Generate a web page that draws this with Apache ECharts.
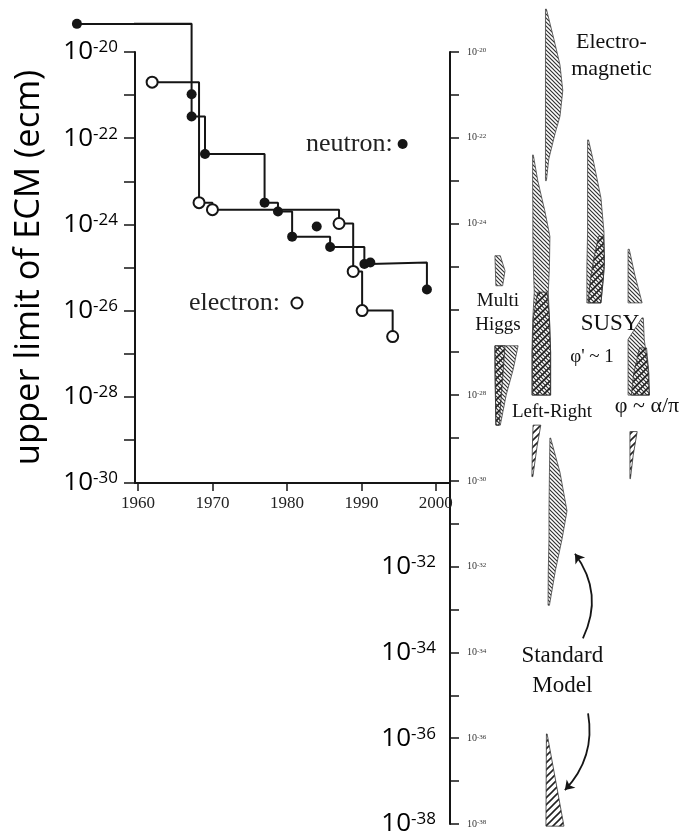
<!DOCTYPE html>
<html>
<head>
<meta charset="utf-8">
<script src="https://cdn.jsdelivr.net/npm/echarts@6/dist/echarts.min.js"></script>
<style>
html, body { margin: 0; padding: 0; background: #fff; }
#chart { width: 684px; height: 837px; }
</style>
</head>
<body>
<div id="chart"></div>
<script>
// measured upper limits of the electric dipole moment (e cm)
const neutronYears = [1951.8, 1967.2, 1967.2, 1969.0, 1977.0, 1978.8, 1980.7, 1985.8, 1990.4, 1991.2, 1998.8]
const neutronEdm   = [4.5e-20, 1.05e-21, 3.2e-22, 4.3e-23, 3.2e-24, 2.0e-24, 5.2e-25, 3.0e-25, 1.2e-25, 1.3e-25, 3.1e-26]
const neutronExtraYear = [1984.0]
const neutronExtraEdm  = [8.9e-25]

const electronYears = [1961.9, 1968.2, 1970.0, 1987.0, 1988.9, 1990.1, 1994.2]
const electronEdm   = [2.0e-21, 3.2e-24, 2.2e-24, 1.05e-24, 8.1e-26, 1.0e-26, 2.5e-27]

// tick labels
const yearTicks     = [1960, 1970, 1980, 1990, 2000]
const leftTickExp   = [-30, -29, -28, -27, -26, -25, -24, -23, -22, -21, -20]
const leftLabelExp  = [-30, -28, -26, -24, -22, -20]
const rightTickExp  = [-38, -37, -36, -35, -34, -33, -32, -31, -30, -29, -28, -27, -26, -25, -24, -23, -22, -21, -20]
const rightSmallExp = [-38, -36, -34, -32, -30, -28, -24, -22, -20]
const rightBigExp   = [-38, -36, -34, -32]

// theory prediction bands: rows of [log10 d, left, right] (column units 0..100)
const emBand      = [[-19.0, 40.8, 41.2], [-19.7, 40.8, 44.4], [-20.3, 40.8, 47.0], [-20.9, 40.8, 48.2], [-21.5, 40.8, 47.0], [-21.9, 40.8, 44.9], [-22.5, 40.8, 42.2], [-23.0, 40.8, 41.2]]
const lrBand      = [[-22.4, 35.3, 35.6], [-23.0, 35.3, 37.5], [-23.7, 35.4, 40.5], [-24.3, 35.4, 42.7], [-25.0, 35.6, 42.5], [-25.6, 36.0, 42.0], [-26.2, 35.4, 42.5], [-27.0, 35.0, 43.0], [-28.0, 35.0, 43.0]]
const lrInner     = [[-25.6, 37.5, 41.5], [-26.2, 35.6, 42.5], [-27.0, 35.2, 43.0], [-28.0, 35.2, 43.0]]
const lrBandLow   = [[-28.7, 35.5, 38.8], [-29.2, 35.2, 37.2], [-29.9, 35.0, 35.4]]
const susy1Band   = [[-22.05, 58.8, 59.2], [-22.6, 58.8, 61.5], [-23.4, 58.8, 64.5], [-24.2, 58.8, 65.8], [-25.0, 58.5, 66.0], [-25.85, 58.5, 64.5]]
const susy1Inner  = [[-24.3, 63.5, 65.6], [-24.8, 61.5, 66.0], [-25.3, 60.0, 65.5], [-25.85, 59.0, 64.5]]
const susyABand   = [[-24.6, 76.1, 76.6], [-25.2, 76.1, 79.0], [-25.85, 76.1, 82.1]]
const susyBBand   = [[-26.2, 82.0, 82.6], [-26.7, 76.1, 83.0], [-27.3, 76.1, 84.5], [-28.0, 76.1, 85.2]]
const susyBInner  = [[-26.9, 81.0, 84.0], [-27.5, 78.5, 85.0], [-28.0, 77.5, 85.2]]
const susyCBand   = [[-28.85, 76.9, 80.0], [-29.4, 76.9, 78.3], [-29.95, 76.9, 77.1]]
const mhBandTop   = [[-24.75, 19.2, 21.5], [-25.1, 19.4, 23.5], [-25.45, 19.6, 22.5]]
const mhBand      = [[-26.85, 19.2, 29.1], [-27.4, 19.2, 27.0], [-28.0, 19.4, 24.0], [-28.7, 19.6, 21.5]]
const mhInner     = [[-26.85, 19.2, 23.5], [-27.6, 19.3, 22.5], [-28.7, 19.6, 21.0]]
const smBand      = [[-29.0, 42.7, 43.0], [-29.8, 42.5, 47.0], [-30.7, 42.3, 50.0], [-31.35, 42.3, 47.9], [-32.1, 42.0, 45.0], [-32.9, 41.9, 42.5]]
const smBandLow   = [[-35.9, 41.2, 41.5], [-38.05, 41.0, 48.7]]

const theoryLabels = [
  { name: 'Electro-\nmagnetic', x: 69.0, e: -20.09 },
  { name: 'Multi\nHiggs', x: 20.5, e: -26.09 },
  { name: 'SUSY', x: 68.4, e: -26.35 },
  { name: "\u03c6' ~ 1", x: 60.7, e: -27.12 },
  { name: 'Left-Right', x: 43.6, e: -28.4 },
  { name: '\u03c6 ~ \u03b1/\u03c0', x: 84.2, e: -28.26 },
  { name: 'Standard\nModel', x: 48.0, e: -34.44 }
]
const theoryLabelFont = [[22, 27], [19, 24], [23, 24], [19, 24], [19, 24], [22, 24], [23, 30]]
const arrows = [
  [[56.8, -33.67], [53.4, -31.70]],
  [[59.0, -35.42], [49.1, -37.21]]
]

const pow = e => Math.pow(10, e)
const expOf = v => Math.round(Math.log10(v))

function hatch(size, width, color, back) {
  const c = document.createElement('canvas')
  c.width = c.height = size
  const g = c.getContext('2d')
  g.strokeStyle = color; g.lineWidth = width
  g.beginPath()
  if (back) {
    g.moveTo(-2, -2); g.lineTo(size + 2, size + 2)
    g.moveTo(-2, size - 2); g.lineTo(2, size + 2)
    g.moveTo(size - 2, -2); g.lineTo(size + 2, 2)
  } else {
    g.moveTo(-2, size + 2); g.lineTo(size + 2, -2)
    g.moveTo(-2, 2); g.lineTo(2, -2)
    g.moveTo(size - 2, size + 2); g.lineTo(size + 2, size - 2)
  }
  g.stroke()
  return c
}
const finePat = { image: hatch(4, 1.2, '#333', true), repeat: 'repeat' }
const coarsePat = { image: hatch(7, 1.6, '#222', false), repeat: 'repeat' }

function bandSeries(bands, fill, stroke) {
  return {
    type: 'custom', xAxisIndex: 1, yAxisIndex: 1, silent: true, z: 3,
    data: bands.map(b => [b[0][1], pow(b[0][0])]),
    renderItem(params, api) {
      const b = bands[params.dataIndex]
      const left = b.map(r => api.coord([r[1], pow(r[0])]))
      const right = b.slice().reverse().map(r => api.coord([r[2], pow(r[0])]))
      return {
        type: 'polygon',
        shape: { points: left.concat(right) },
        style: { fill, stroke, lineWidth: 0.8 }
      }
    }
  }
}

const bigRich = {
  b: { fontSize: 26, fontFamily: 'Open Sans', color: '#000', lineHeight: 26 },
  s: { fontSize: 17, fontFamily: 'Open Sans', color: '#000', lineHeight: 17, verticalAlign: 'top' }
}
const smallRich = {
  b: { fontSize: 10, fontFamily: 'Liberation Serif', color: '#333', lineHeight: 10 },
  s: { fontSize: 7, fontFamily: 'Liberation Serif', color: '#333', lineHeight: 7, verticalAlign: 'top' }
}
const powLabel = v => '{b|10}{s|' + expOf(v) + '}'
const ink = '#151515'

const chart = echarts.init(document.getElementById('chart'))
chart.setOption({
  animation: false,
  backgroundColor: '#fff',
  grid: [
    { left: 135, top: 52, width: 315, height: 431 },
    { left: 450, top: 52, width: 234, height: 775 }
  ],
  legend: [
    { data: [{ name: 'neutron', itemStyle: { color: ink } }], left: 301, top: 126, align: 'right', icon: 'circle',
      itemWidth: 10, itemHeight: 10, formatter: '{name}:', selectedMode: false,
      textStyle: { fontFamily: 'Liberation Serif', fontSize: 26, color: '#222' } },
    { data: [{ name: 'electron', itemStyle: { color: '#fff', borderColor: ink, borderWidth: 2 } }], left: 184, top: 285, align: 'right', icon: 'circle',
      itemWidth: 11, itemHeight: 11, formatter: '{name}: ', selectedMode: false,
      textStyle: { fontFamily: 'Liberation Serif', fontSize: 26, color: '#222' } }
  ],
  xAxis: [
    { gridIndex: 0, type: 'value', min: 1959.6, max: 2001.9,
      axisLine: { lineStyle: { color: ink, width: 2 } },
      axisTick: { customValues: yearTicks, length: 8, lineStyle: { color: ink, width: 1.5 } },
      axisLabel: { customValues: yearTicks, margin: 12, formatter: v => String(v),
        fontFamily: 'Liberation Serif', fontSize: 17, color: '#222' },
      splitLine: { show: false } },
    { gridIndex: 1, type: 'value', min: 0, max: 100, show: false }
  ],
  yAxis: [
    { gridIndex: 0, type: 'log', logBase: 10, min: 1e-30, max: 1e-20,
      name: 'upper limit of ECM (ecm)', nameLocation: 'middle', nameRotate: 90, nameGap: 88,
      nameTextStyle: { fontFamily: 'Open Sans', fontSize: 34.5, color: '#000' },
      axisLine: { show: true, lineStyle: { color: ink, width: 2 } },
      axisTick: { customValues: leftTickExp.map(pow), length: 11, lineStyle: { color: ink, width: 1.5 } },
      axisLabel: { customValues: leftLabelExp.map(pow), margin: 17, formatter: powLabel, rich: bigRich },
      splitLine: { show: false } },
    { gridIndex: 1, type: 'log', logBase: 10, min: 1e-38, max: 1e-20, position: 'left',
      axisLine: { show: true, lineStyle: { color: ink, width: 2 } },
      axisTick: { customValues: rightTickExp.map(pow), inside: true, length: 9, lineStyle: { color: ink, width: 1.5 } },
      axisLabel: { customValues: rightSmallExp.map(pow), inside: true, margin: 17, formatter: powLabel, rich: smallRich },
      splitLine: { show: false } },
    { gridIndex: 1, type: 'log', logBase: 10, min: 1e-38, max: 1e-20, position: 'left',
      axisLine: { show: false }, axisTick: { show: false },
      axisLabel: { customValues: rightBigExp.map(pow), margin: 14, formatter: powLabel, rich: bigRich },
      splitLine: { show: false } }
  ],
  series: [
    { name: 'neutron', type: 'line', step: 'end', clip: false, z: 5,
      data: neutronYears.map((y, i) => [y, neutronEdm[i]]),
      symbol: 'circle', symbolSize: 10, itemStyle: { color: ink },
      lineStyle: { color: ink, width: 2 } },
    // the pre-1960 step lies left of the year axis
    { type: 'lines', coordinateSystem: 'cartesian2d', xAxisIndex: 0, yAxisIndex: 0, clip: false, silent: true, z: 5,
      data: [{ coords: [[neutronYears[0], neutronEdm[0]], [neutronYears[1], neutronEdm[0]]] }],
      lineStyle: { color: ink, width: 2, opacity: 1 } },
    { name: 'neutron', type: 'scatter', z: 5,
      data: neutronExtraYear.map((y, i) => [y, neutronExtraEdm[i]]),
      symbol: 'circle', symbolSize: 10, itemStyle: { color: ink, opacity: 1 } },
    { name: 'electron', type: 'line', step: 'end', clip: false, z: 6,
      data: electronYears.map((y, i) => [y, electronEdm[i]]),
      symbol: 'circle', symbolSize: 11,
      itemStyle: { color: '#fff', borderColor: ink, borderWidth: 2 },
      lineStyle: { color: ink, width: 2 } },
    bandSeries([emBand, lrBand, susy1Band, susyABand, susyBBand, mhBandTop, mhBand, smBand], finePat, '#444'),
    bandSeries([lrInner, lrBandLow, susy1Inner, susyBInner, susyCBand, mhInner, smBandLow], coarsePat, '#333'),
    { type: 'scatter', xAxisIndex: 1, yAxisIndex: 1, silent: true, z: 4,
      symbolSize: 1, itemStyle: { color: 'rgba(0,0,0,0)' },
      data: theoryLabels.map((t, i) => ({ name: t.name, value: [t.x, pow(t.e)],
        label: { fontSize: theoryLabelFont[i][0], lineHeight: theoryLabelFont[i][1] } })),
      label: { show: true, position: 'inside', formatter: p => p.name, opacity: 1,
        fontFamily: 'Liberation Serif', color: '#111', textBorderWidth: 0 } },
    { type: 'lines', coordinateSystem: 'cartesian2d', xAxisIndex: 1, yAxisIndex: 1, silent: true, z: 4,
      symbol: ['none', 'arrow'], symbolSize: 9,
      data: arrows.map((a, i) => ({ coords: a.map(p => [p[0], pow(p[1])]),
        lineStyle: { curveness: i === 0 ? -0.3 : 0.25 } })),
      lineStyle: { color: ink, width: 1.8, opacity: 1 } }
  ]
})
</script>
</body>
</html>
